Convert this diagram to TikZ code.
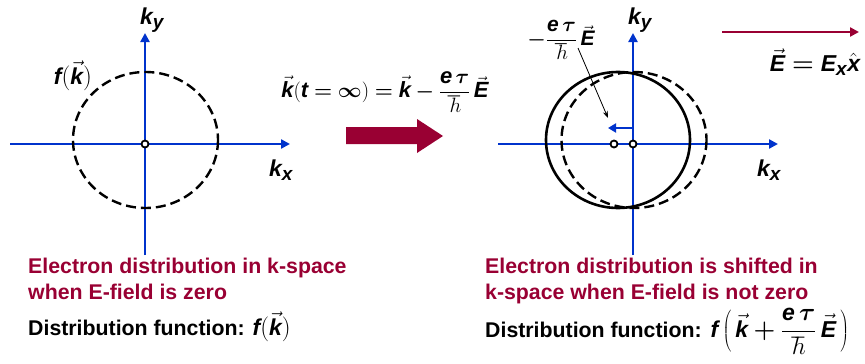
\documentclass[tikz,border=0pt]{standalone}
\usepackage{bm}
\usepackage{fontspec}
\setmainfont{Liberation Sans}
\usetikzlibrary{arrows.meta}
\definecolor{axblue}{RGB}{0,51,204}
\definecolor{dred}{RGB}{153,0,51}
\newcommand\bi[1]{\mbox{\bfseries\itshape #1}}
\newcommand\vbi[1]{\vec{\bi{#1}}}
\newcommand\btau{\bm{\tau}}
\newcommand\dfr[2]{{\displaystyle\frac{#1}{#2}}}
\newcommand\bsub[2]{\bi{#1}_{\mbox{\fontsize{#2}{#2}\selectfont\bfseries\itshape y}}}
\newcommand\xsub[2]{\bi{#1}_{\mbox{\fontsize{#2}{#2}\selectfont\bfseries\itshape x}}}
\begin{document}
\begin{tikzpicture}[x=1pt,y=-1pt,
  txt/.style={inner sep=0pt, font=\fontsize{21.3}{26}\selectfont\bfseries},
  red txt/.style={txt, text=dred},
  lab/.style={inner sep=0pt, font=\fontsize{23}{28}\selectfont},
  axis/.style={draw=axblue, line width=2.6pt, -{Triangle[length=9pt,width=9pt]}},
  dcircle/.style={draw=black, line width=2.4pt, dash pattern=on 10pt off 5pt},
  scircle/.style={draw=black, line width=2.6pt},
  origin/.style={circle, draw=black, fill=white, line width=1.8pt, minimum size=7pt, inner sep=0pt},
]
\path[use as bounding box] (0,0) rectangle (865,364);

% ---------- left diagram ----------
\coordinate (LxA) at (10,144);
\coordinate (LxB) at (290,144);
\coordinate (LyA) at (145,255);
\coordinate (LyB) at (145,33);
\draw[axis] (LxA) -- (LxB);
\draw[axis] (LyA) -- (LyB);
\draw[dcircle] (145.5,140) ellipse [x radius=72.5, y radius=68];
\node[origin] (LO) at (145,144) {};
\node[lab] (Lky) at (152,20) {$\bsub{k}{19}$};
\node[lab] (Lkx) at (281,170) {$\xsub{k}{19}$};
\node[lab] (Lf) at (73,76) {$\bi{f}\bigl(\vbi{k}\bigr)$};

% ---------- middle ----------
\node[txt, font=\fontsize{22}{26}\selectfont] (eq) at (385,92) {$\vbi{k}\bigl(\bi{t}\bm{=}\bm{\infty}\bigr)\bm{=}\vbi{k}\bm{-}\dfr{\bi{e}\,\btau}{\hbar}\,\vbi{E}$};
\fill[dred] (346,127) -- (417,127) -- (417,119) -- (443,136) -- (417,153) -- (417,144) -- (346,144) -- cycle;

% ---------- right diagram ----------
\coordinate (RxA) at (498,144);
\coordinate (RxB) at (778,144);
\coordinate (RyA) at (633,255);
\coordinate (RyB) at (633,33);
\draw[axis] (RxA) -- (RxB);
\draw[axis] (RyA) -- (RyB);
\draw[dcircle] (634,140) ellipse [x radius=72.5, y radius=68];
\draw[scircle] (618,140) ellipse [x radius=72, y radius=68];
\coordinate (Sa) at (633,128);
\coordinate (Sb) at (608,128);
\draw[draw=axblue, line width=2.6pt, -{Triangle[length=8pt,width=9pt]}] (Sa) -- (Sb);
\node[origin] (RO) at (633,144) {};
\node[origin] (RS) at (614,144) {};
\node[lab] (Rky) at (640,20) {$\bsub{k}{19}$};
\node[lab] (Rkx) at (769,170) {$\xsub{k}{19}$};
\node[txt, font=\fontsize{21}{24}\selectfont] (shift) at (561,40) {$\bm{-}\dfr{\bi{e}\,\btau}{\hbar}\,\vbi{E}$};
\coordinate (Pa) at (578,48);
\coordinate (Pb) at (608,118);
\draw[line width=0.8pt, -{Stealth[length=7pt,width=5pt]}] (Pa) -- (Pb);
\coordinate (Ea) at (722,32);
\coordinate (Eb) at (859,32);
\draw[draw=dred, line width=2.6pt, -{Triangle[length=9pt,width=9pt]}] (Ea) -- (Eb);
\node[lab] (Elab) at (815,62) {$\vbi{E}\bm{=}\xsub{E}{19}\hat{\bi{x}}$};

% ---------- captions ----------
\node[red txt, anchor=base west] (c1a) at (28,273) {Electron distribution in k-space};
\node[red txt, anchor=base west] (c1b) at (28,299) {when E-field is zero};
\node[txt, anchor=base west] (d1) at (28,335) {Distribution function: {\fontsize{23}{26}\selectfont$\bi{f}\Bigl(\vbi{k}\Bigr)$}};
\node[red txt, anchor=base west] (c2a) at (485,273) {Electron distribution is shifted in};
\node[red txt, anchor=base west] (c2b) at (485,299) {k-space when E-field is not zero};
\node[txt, anchor=base west] (d2) at (485,337) {Distribution function:\hspace{9pt}{\fontsize{23}{26}\selectfont$\bi{f}\left(\,\vbi{k}\bm{+}\dfr{\bi{e}\,\btau}{\hbar}\,\vbi{E}\,\right)$}};
\end{tikzpicture}
\end{document}
